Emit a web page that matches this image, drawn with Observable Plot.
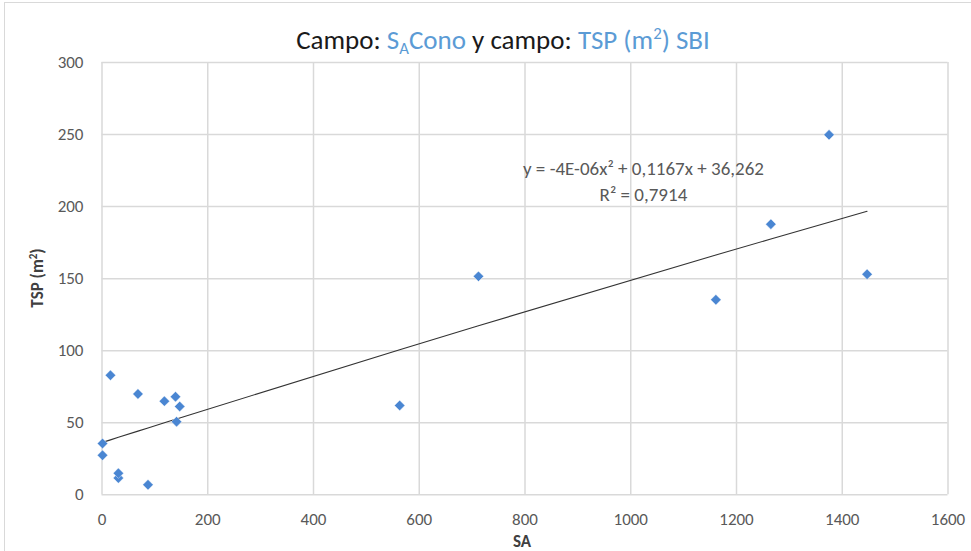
<!DOCTYPE html>
<html>
<head>
<meta charset="utf-8">
<script src="https://cdn.jsdelivr.net/npm/d3@7"></script>
<script src="https://cdn.jsdelivr.net/npm/@observablehq/plot@0.6"></script>
<style>
  html, body { margin: 0; padding: 0; background: #fff; }
  #wrap { position: relative; width: 971px; height: 551px; overflow: hidden; font-family: Calibri, Carlito, Lato, "Open Sans", sans-serif; }
  #frame { position: absolute; left: 4px; top: 2px; width: 1000px; height: 600px; border: 1px solid #d9d9d9; box-sizing: border-box; }
  #title { position: absolute; left: 0; width: 1006px; top: 21px; text-align: center; font-size: 27px; color: #1a1a1a; white-space: nowrap; line-height: 38px; }
  #title .b { color: #5b9bd5; }
  #title sub, #title sup { font-size: 0.62em; line-height: 0; }
  #title sub { vertical-align: -0.3em; }
  #title sup { vertical-align: 0.6em; }
  .axt { position: absolute; font-weight: bold; font-size: 17px; color: #404040; white-space: nowrap; }
  #xt { left: 522px; top: 541px; transform: translate(-50%, -50%); }
  #yt { left: 37px; top: 278px; transform: translate(-50%, -50%) rotate(-90deg); }
  #yt sup { font-size: 0.65em; vertical-align: 0.5em; line-height: 0; }
  #chart { position: absolute; left: 0; top: 0; }
</style>
</head>
<body>
<div id="wrap">
  <div id="frame"></div>
  <div id="chart"></div>
  <div id="title">Campo: <span class="b">S<sub>A</sub>Cono</span> y campo: <span class="b">TSP (m<sup>2</sup>) SBI</span></div>
  <div class="axt" id="xt">SA</div>
  <div class="axt" id="yt">TSP (m<sup>2</sup>)</div>
</div>
<script>
// ---- data ----
const sa  = [1, 1, 16, 31, 31, 68, 87, 118, 139, 141, 147, 563, 712, 1161, 1265, 1375, 1447];
const tsp = [35.6, 27.5, 83, 11.6, 15, 70, 7, 65, 68, 50.7, 61.3, 62, 151.6, 135.4, 187.8, 249.8, 153];
const xTicks = [0, 200, 400, 600, 800, 1000, 1200, 1400, 1600];
const yTicks = [0, 50, 100, 150, 200, 250, 300];
// polynomial trend line coefficients shown on the chart (a x^2 + b x + c)
const trendCoef = [-4e-6, 0.1167, 36.262];
const equationText = ["y = -4E-06x\u00B2 + 0,1167x + 36,262", "R\u00B2 = 0,7914"];
const equationAnchor = { x: 1024, y: 219 };

const points = sa.map((x, i) => ({ x, y: tsp[i] }));
const trendX = [0, ...sa].filter((v, i, a) => a.indexOf(v) === i).sort((a, b) => a - b);
const trend = trendX.map(x => ({ x, y: trendCoef[0] * x * x + trendCoef[1] * x + trendCoef[2] }));

const chart = Plot.plot({
  width: 971,
  height: 551,
  marginLeft: 101.5,
  marginRight: 23.5,
  marginTop: 62,
  marginBottom: 56.7,
  style: { fontFamily: "Calibri, Carlito, Lato, 'Open Sans', sans-serif", fontSize: "17px", color: "#595959", background: "transparent", overflow: "visible" },
  x: { domain: [0, 1600] },
  y: { domain: [0, 300] },
  marks: [
    Plot.gridX(xTicks, { stroke: "#d9d9d9", strokeOpacity: 1, strokeWidth: 1.5 }),
    Plot.gridY(yTicks, { stroke: "#d9d9d9", strokeOpacity: 1, strokeWidth: 1.5 }),
    Plot.axisX(xTicks, { tickSize: 0, tickPadding: 18.5, label: null, tickFormat: d => String(d), fill: "#595959" }),
    Plot.axisY(yTicks, { tickSize: 0, tickPadding: 18.5, label: null, tickFormat: d => String(d), fill: "#595959" }),
    Plot.line(trend, { x: "x", y: "y", stroke: "#333333", strokeWidth: 1.1 }),
    Plot.dot(points, { x: "x", y: "y", symbol: "diamond2", r: 4.7, fill: "#4a86d2", stroke: "#ffffff", strokeWidth: 0.4 }),
    Plot.text([equationText.join("\n")], {
      x: () => equationAnchor.x, y: () => equationAnchor.y, text: d => d,
      textAnchor: "middle", lineAnchor: "middle", lineHeight: 1.37,
      fill: "#595959", fontSize: 19
    })
  ]
});
document.getElementById("chart").appendChild(chart);
</script>
</body>
</html>
